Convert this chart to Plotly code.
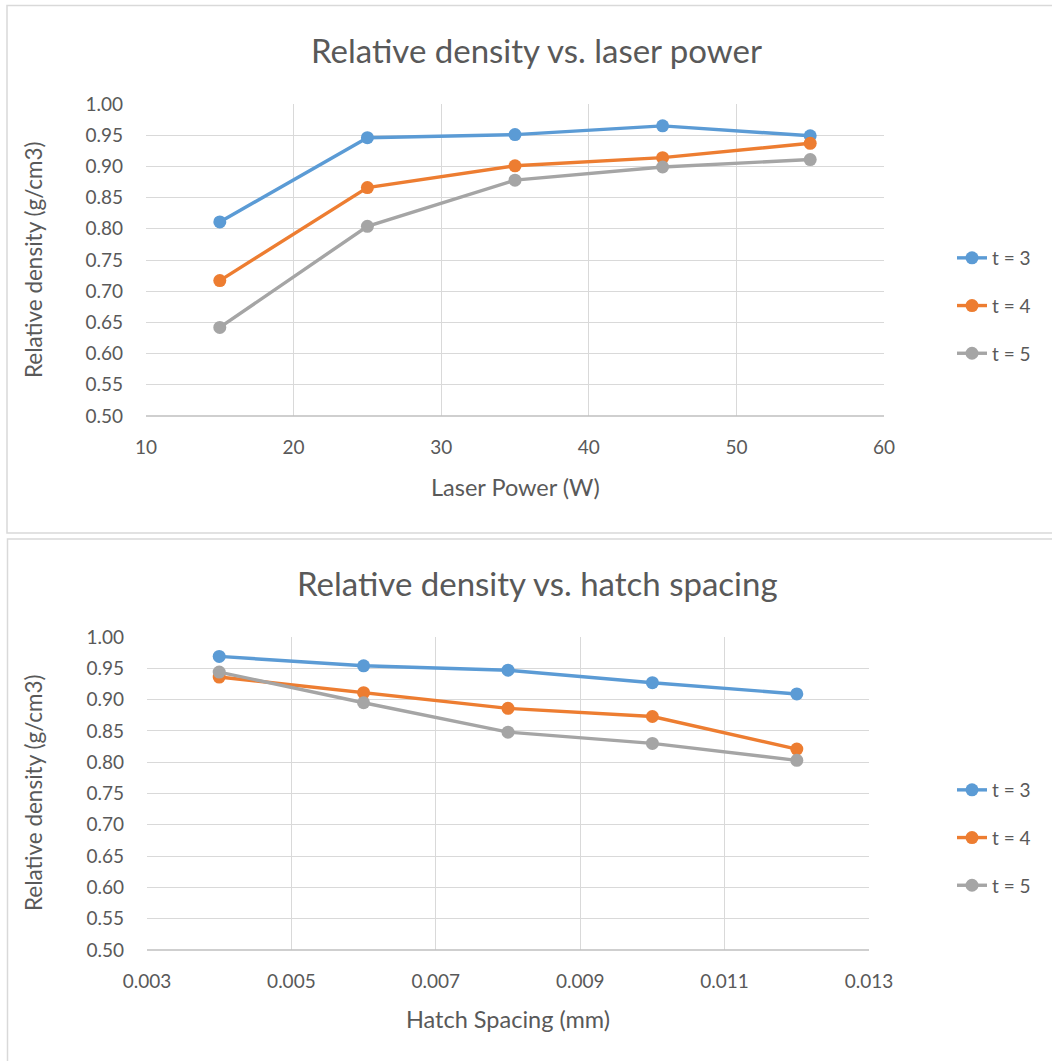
import plotly.graph_objects as go

W, H = 1052, 1061

laser_power = [15, 25, 35, 45, 55]
hatch_spacing = [0.004, 0.006, 0.008, 0.010, 0.012]

power_t3 = [0.811, 0.946, 0.951, 0.965, 0.949]
power_t4 = [0.717, 0.866, 0.901, 0.914, 0.937]
power_t5 = [0.642, 0.804, 0.878, 0.899, 0.911]

hatch_t3 = [0.969, 0.954, 0.947, 0.927, 0.909]
hatch_t4 = [0.936, 0.911, 0.886, 0.873, 0.821]
hatch_t5 = [0.944, 0.895, 0.848, 0.830, 0.803]

series_names = ["t = 3", "t = 4", "t = 5"]
colors = ["#5B9BD5", "#ED7D31", "#A5A5A5"]

FONT = "Lato"
TXT = "#595959"

def px(x):
    return x / W

def py(y):
    return 1 - y / H

fig = go.Figure()

top_series = [power_t3, power_t4, power_t5]
bot_series = [hatch_t3, hatch_t4, hatch_t5]

for i, (name, ys) in enumerate(zip(series_names, top_series)):
    fig.add_trace(go.Scatter(
        x=laser_power, y=ys, name=name, mode="lines+markers",
        line=dict(color=colors[i], width=3.4),
        marker=dict(color=colors[i], size=13),
        xaxis="x", yaxis="y", legend="legend", legendgroup=f"a{i}",
    ))
for i, (name, ys) in enumerate(zip(series_names, bot_series)):
    fig.add_trace(go.Scatter(
        x=hatch_spacing, y=ys, name=name, mode="lines+markers",
        line=dict(color=colors[i], width=3.4),
        marker=dict(color=colors[i], size=13),
        xaxis="x2", yaxis="y2", legend="legend2", legendgroup=f"b{i}",
    ))

axis_common = dict(
    showgrid=True, gridcolor="#D9D9D9", gridwidth=1.3,
    zeroline=False, ticks="", showline=False, automargin=False,
    tickfont=dict(family=FONT, size=19, color=TXT),
)

fig.update_layout(
    width=W, height=H,
    margin=dict(l=0, r=0, t=0, b=0, pad=0, autoexpand=False),
    paper_bgcolor="white", plot_bgcolor="white",
    font=dict(family=FONT, color=TXT),
    xaxis=dict(domain=[px(146), px(884)], range=[10, 60], dtick=10,
               anchor="y", ticklabelstandoff=18, **axis_common),
    yaxis=dict(domain=[py(416), py(104)], range=[0.5, 1.0], dtick=0.05,
               tickformat=".2f", anchor="x", ticklabelstandoff=22, **axis_common),
    xaxis2=dict(domain=[px(147), px(869)], range=[0.003, 0.013], dtick=0.002,
                tick0=0.003, tickformat=".3f", anchor="y2",
                ticklabelstandoff=18, **axis_common),
    yaxis2=dict(domain=[py(950), py(637)], range=[0.5, 1.0], dtick=0.05,
                tickformat=".2f", anchor="x2", ticklabelstandoff=22, **axis_common),
    legend=dict(x=px(952), y=py(306), xanchor="left", yanchor="middle",
                font=dict(family=FONT, size=19, color=TXT),
                tracegroupgap=20, bgcolor="rgba(0,0,0,0)"),
    legend2=dict(x=px(952), y=py(838), xanchor="left", yanchor="middle",
                 font=dict(family=FONT, size=19, color=TXT),
                 tracegroupgap=20, bgcolor="rgba(0,0,0,0)"),
    showlegend=True,
)

# bottom axis lines (darker)
for (x0, x1, y) in [(146, 884, 416), (147, 869, 950)]:
    fig.add_shape(type="line", xref="paper", yref="paper",
                  x0=px(x0), x1=px(x1), y0=py(y), y1=py(y),
                  line=dict(color="#BFBFBF", width=1.5))

# chart area borders
fig.add_shape(type="rect", xref="paper", yref="paper",
              x0=px(7), x1=px(1060), y0=py(533), y1=py(5.5),
              line=dict(color="#D9D9D9", width=1.5))
fig.add_shape(type="rect", xref="paper", yref="paper",
              x0=px(7.5), x1=px(1060), y0=py(1070), y1=py(539),
              line=dict(color="#D9D9D9", width=1.5))

annots = [
    dict(text="Relative density vs. laser power", x=px(536), y=py(50), size=33, angle=0),
    dict(text="Relative density vs. hatch spacing", x=px(537), y=py(583), size=33, angle=0),
    dict(text="Laser Power (W)", x=px(515), y=py(487), size=23.5, angle=0),
    dict(text="Hatch Spacing (mm)", x=px(508), y=py(1019), size=23.5, angle=0),
    dict(text="Relative density (g/cm3)", x=px(33), y=py(260), size=22.5, angle=-90),
    dict(text="Relative density (g/cm3)", x=px(33), y=py(793), size=22.5, angle=-90),
]
for a in annots:
    fig.add_annotation(text=a["text"], x=a["x"], y=a["y"], xref="paper", yref="paper",
                       xanchor="center", yanchor="middle", showarrow=False,
                       textangle=a["angle"],
                       font=dict(family=FONT, size=a["size"], color=TXT))

fig.write_html("out.html")
